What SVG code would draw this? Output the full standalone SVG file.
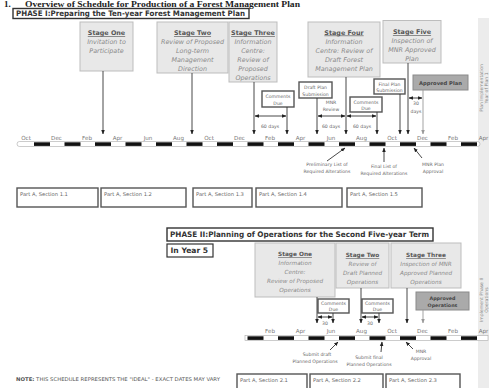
<svg xmlns="http://www.w3.org/2000/svg" width="489" height="388" viewBox="0 0 489 388">
<style>
text{font-family:"DejaVu Sans","Liberation Sans",sans-serif;}
.stg{fill:#e8e8e8;stroke:#bdbdbd;stroke-width:1;}
.appr{fill:#aaaaaa;stroke:#8a8a8a;stroke-width:1;}
.st{font-size:6.4px;font-weight:bold;fill:#555;text-decoration:underline;text-anchor:middle;}
.it{font-size:6.4px;font-style:italic;fill:#8a8a8a;text-anchor:middle;}
.st2{font-size:5.8px;font-weight:bold;fill:#555;text-decoration:underline;text-anchor:middle;}
.it2{font-size:5.7px;font-style:italic;fill:#8a8a8a;text-anchor:middle;}
.box2{fill:#fff;stroke:#555;stroke-width:1.4;}
.sm{font-size:4.6px;fill:#666;text-anchor:middle;}
.pa{font-size:5.2px;fill:#666;}
.mon{font-size:5.6px;fill:#777;text-anchor:middle;}
.ph{font-size:7.6px;font-weight:bold;fill:#333;}
.ln{stroke:#333;stroke-width:0.9;fill:none;}
.lg{stroke:#999;stroke-width:0.9;fill:none;}
.blk{fill:#111;}
.side{font-size:4.6px;fill:#888;text-anchor:middle;}
</style>
<defs>
<marker id="ah" viewBox="0 0 10 10" refX="9" refY="5" markerWidth="5" markerHeight="5" orient="auto"><path d="M0,1 L10,5 L0,9 z" fill="#222"/></marker>
<marker id="ahg" viewBox="0 0 10 10" refX="9" refY="5" markerWidth="5" markerHeight="5" orient="auto"><path d="M0,1 L10,5 L0,9 z" fill="#999"/></marker>
<marker id="as" viewBox="0 0 10 10" refX="1" refY="5" markerWidth="5" markerHeight="5" orient="auto"><path d="M10,1 L0,5 L10,9 z" fill="#222"/></marker>
</defs>

<g id="title">
<text x="4" y="6.5" style="font-family:'Liberation Serif',serif;font-size:9px;font-weight:bold;fill:#222">1.</text>
<text x="25" y="6.5" textLength="275" lengthAdjust="spacingAndGlyphs" style="font-family:'Liberation Serif',serif;font-size:9px;font-weight:bold;fill:#222">Overview of Schedule for Production of a Forest Management Plan</text>
</g>

<g id="sidebar">
<rect x="478" y="18" width="11" height="370" fill="#ececec"/>
<text class="side" transform="translate(482.5,88) rotate(-90)">Plan Implementation</text>
<text class="side" transform="translate(487.5,88) rotate(-90)">Year of Plan 1</text>
<text class="side" transform="translate(482.5,300) rotate(-90)">Implement Phase II</text>
<text class="side" transform="translate(487.5,300) rotate(-90)">Operations</text>
</g>

<g id="phase1">
<rect x="13" y="8.5" width="236" height="10" fill="#fff" stroke="#333" stroke-width="1.4"/>
<text class="ph" x="16" y="16.3" textLength="229" lengthAdjust="spacingAndGlyphs">PHASE I:Preparing the Ten-year Forest Management Plan</text>
</g>

<g id="p1-stage1">
<rect class="stg" x="80" y="22" width="53" height="49"/>
<text class="st" x="106.5" y="35">Stage One</text>
<text class="it" x="106.5" y="44">Invitation to</text>
<text class="it" x="106.5" y="53">Participate</text>
</g>
<g id="p1-stage2">
<rect class="stg" x="157" y="22" width="71" height="51"/>
<text class="st" x="192.5" y="35">Stage Two</text>
<text class="it" x="192.5" y="44">Review of Proposed</text>
<text class="it" x="192.5" y="53">Long-term</text>
<text class="it" x="192.5" y="62">Management</text>
<text class="it" x="192.5" y="71">Direction</text>
</g>
<g id="p1-stage3">
<rect class="stg" x="229" y="22" width="48" height="60"/>
<text class="st" x="253" y="35">Stage Three</text>
<text class="it" x="253" y="44">Information</text>
<text class="it" x="253" y="53">Centre:</text>
<text class="it" x="253" y="62">Review of</text>
<text class="it" x="253" y="71">Proposed</text>
<text class="it" x="253" y="80">Operations</text>
</g>
<g id="p1-stage4">
<rect class="stg" x="308" y="22" width="72" height="55"/>
<text class="st" x="344" y="34.5">Stage Four</text>
<text class="it" x="344" y="43.5">Information</text>
<text class="it" x="344" y="52.5">Centre: Review of</text>
<text class="it" x="344" y="61.5">Draft Forest</text>
<text class="it" x="344" y="70.5">Management Plan</text>
</g>
<g id="p1-stage5">
<rect class="stg" x="383" y="20.5" width="58" height="42.5"/>
<text class="st" x="412" y="34">Stage Five</text>
<text class="it" x="412" y="43">Inspection of</text>
<text class="it" x="412" y="52">MNR Approved</text>
<text class="it" x="412" y="61">Plan</text>
</g>
<g id="p1-approved">
<rect class="appr" x="413" y="75" width="55" height="15"/>
<text x="440.5" y="84.5" style="font-size:5.2px;fill:#444;text-anchor:middle;font-weight:bold">Approved Plan</text>
</g>
<g id="p1-comments1">
<rect class="box2" x="262" y="91" width="32" height="16"/>
<text class="sm" x="278" y="98">Comments</text>
<text class="sm" x="278" y="104.5">Due</text>
</g>
<g id="p1-draft">
<rect class="box2" x="299" y="82" width="33" height="16"/>
<text class="sm" x="315.5" y="89">Draft Plan</text>
<text class="sm" x="315.5" y="95.5">Submission</text>
</g>
<g id="p1-comments2">
<rect class="box2" x="350" y="97" width="32" height="15"/>
<text class="sm" x="366" y="103.5">Comments</text>
<text class="sm" x="366" y="110">Due</text>
</g>
<g id="p1-final">
<rect class="box2" x="374" y="79" width="31" height="15"/>
<text class="sm" x="389.5" y="85.5">Final Plan</text>
<text class="sm" x="389.5" y="92">Submission</text>
</g>

<g id="timeline1">
<rect x="17" y="141.5" width="463" height="5" rx="2.5" fill="#fff" stroke="#aaa" stroke-width="0.6"/>
<rect class="blk" x="34" y="142.3" width="16" height="3.6"/>
<rect class="blk" x="64.5" y="142.3" width="16" height="3.6"/>
<rect class="blk" x="95" y="142.3" width="16" height="3.6"/>
<rect class="blk" x="125.5" y="142.3" width="16" height="3.6"/>
<rect class="blk" x="156" y="142.3" width="16" height="3.6"/>
<rect class="blk" x="186.5" y="142.3" width="16" height="3.6"/>
<rect class="blk" x="217" y="142.3" width="16" height="3.6"/>
<rect class="blk" x="247.5" y="142.3" width="16" height="3.6"/>
<rect class="blk" x="278" y="142.3" width="16" height="3.6"/>
<rect class="blk" x="308.5" y="142.3" width="16" height="3.6"/>
<rect class="blk" x="339" y="142.3" width="16" height="3.6"/>
<rect class="blk" x="369.5" y="142.3" width="16" height="3.6"/>
<rect class="blk" x="400" y="142.3" width="16" height="3.6"/>
<rect class="blk" x="430.5" y="142.3" width="16" height="3.6"/>
<rect class="blk" x="461" y="142.3" width="16" height="3.6"/>
<text class="mon" x="26" y="140">Oct</text>
<text class="mon" x="56.5" y="140">Dec</text>
<text class="mon" x="87" y="140">Feb</text>
<text class="mon" x="117.5" y="140">Apr</text>
<text class="mon" x="148" y="140">Jun</text>
<text class="mon" x="178.5" y="140">Aug</text>
<text class="mon" x="209" y="140">Oct</text>
<text class="mon" x="239.5" y="140">Dec</text>
<text class="mon" x="270" y="140">Feb</text>
<text class="mon" x="300.5" y="140">Apr</text>
<text class="mon" x="331" y="140">Jun</text>
<text class="mon" x="361.5" y="140">Aug</text>
<text class="mon" x="392" y="140">Oct</text>
<text class="mon" x="422.5" y="140">Dec</text>
<text class="mon" x="453" y="140">Feb</text>
<text class="mon" x="483.5" y="140">Apr</text>
</g>

<g id="p1-notes">
<text class="sm" x="327" y="166">Preliminary List of</text>
<text class="sm" x="327" y="173">Required Alterations</text>
<text class="sm" x="384" y="168">Final List of</text>
<text class="sm" x="384" y="175">Required Alterations</text>
<text class="sm" x="433" y="166">MNR Plan</text>
<text class="sm" x="433" y="173">Approval</text>
<text class="sm" x="270" y="128">60 days</text>
<text class="sm" x="331" y="104">MNR</text>
<text class="sm" x="331" y="111">Review</text>
<text class="sm" x="331" y="128">60 days</text>
<text class="sm" x="362" y="128">60 days</text>
<rect x="409" y="100" width="14" height="15" fill="#fff"/>
<text class="sm" x="416" y="105">30</text>
<text class="sm" x="416" y="113">days</text>
</g>

<g id="p1-partA">
<rect class="box2" x="17" y="188" width="81" height="19"/>
<text class="pa" x="20" y="196">Part A, Section 1.1</text>
<rect class="box2" x="101" y="188" width="85" height="19"/>
<text class="pa" x="104" y="196">Part A, Section 1.2</text>
<rect class="box2" x="193" y="188" width="59" height="19"/>
<text class="pa" x="196" y="196">Part A, Section 1.3</text>
<rect class="box2" x="256" y="188" width="86" height="19"/>
<text class="pa" x="259" y="196">Part A, Section 1.4</text>
<rect class="box2" x="347" y="188" width="75" height="19"/>
<text class="pa" x="350" y="196">Part A, Section 1.5</text>
</g>

<g id="phase2">
<rect x="167" y="228" width="266" height="13" fill="#fff" stroke="#333" stroke-width="1.4"/>
<text class="ph" x="170" y="237.3" textLength="259" lengthAdjust="spacingAndGlyphs">PHASE II:Planning of Operations for the Second Five-year Term</text>
<rect x="167" y="244" width="46" height="13" fill="#fff" stroke="#333" stroke-width="1.2"/>
<text class="ph" x="170.5" y="253">In Year 5</text>
</g>

<g id="p2-stage1">
<rect class="stg" x="255" y="243" width="80" height="54"/>
<text class="st2" x="295" y="256">Stage One</text>
<text class="it2" x="295" y="265">Information</text>
<text class="it2" x="295" y="274">Centre:</text>
<text class="it2" x="295" y="283">Review of Proposed</text>
<text class="it2" x="295" y="292">Operations</text>
</g>
<g id="p2-stage2">
<rect class="stg" x="336" y="243" width="53" height="45"/>
<text class="st2" x="362.5" y="257">Stage Two</text>
<text class="it2" x="362.5" y="266">Review of</text>
<text class="it2" x="362.5" y="275">Draft Planned</text>
<text class="it2" x="362.5" y="284">Operations</text>
</g>
<g id="p2-stage3">
<rect class="stg" x="391" y="243" width="70" height="45"/>
<text class="st2" x="426" y="257">Stage Three</text>
<text class="it2" x="426" y="266">Inspection of MNR</text>
<text class="it2" x="426" y="275">Approved Planned</text>
<text class="it2" x="426" y="284">Operations</text>
</g>
<g id="p2-approved">
<rect class="appr" x="416" y="292" width="53" height="18"/>
<text x="442.5" y="299.5" style="font-size:4.8px;fill:#444;text-anchor:middle;font-weight:bold">Approved</text>
<text x="442.5" y="306.5" style="font-size:4.8px;fill:#444;text-anchor:middle;font-weight:bold">Operations</text>
</g>
<g id="p2-comments1">
<rect class="box2" x="318" y="299" width="31" height="14"/>
<text class="sm" x="333.5" y="305">Comments</text>
<text class="sm" x="333.5" y="311">Due</text>
</g>
<g id="p2-comments2">
<rect class="box2" x="362" y="299" width="31" height="14"/>
<text class="sm" x="377.5" y="305">Comments</text>
<text class="sm" x="377.5" y="311">Due</text>
</g>

<g id="timeline2">
<rect x="245" y="335.5" width="243" height="5" fill="#fff" stroke="#aaa" stroke-width="0.6"/>
<rect class="blk" x="247.5" y="336.3" width="16" height="3.6"/>
<rect class="blk" x="278" y="336.3" width="16" height="3.6"/>
<rect class="blk" x="308.5" y="336.3" width="16" height="3.6"/>
<rect class="blk" x="339" y="336.3" width="16" height="3.6"/>
<rect class="blk" x="369.5" y="336.3" width="16" height="3.6"/>
<rect class="blk" x="400" y="336.3" width="16" height="3.6"/>
<rect class="blk" x="430.5" y="336.3" width="16" height="3.6"/>
<rect class="blk" x="461" y="336.3" width="16" height="3.6"/>
<text class="mon" x="270" y="333">Feb</text>
<text class="mon" x="300.5" y="333">Apr</text>
<text class="mon" x="331" y="333">Jun</text>
<text class="mon" x="361.5" y="333">Aug</text>
<text class="mon" x="392" y="333">Oct</text>
<text class="mon" x="422.5" y="333">Dec</text>
<text class="mon" x="453" y="333">Feb</text>
<text class="mon" x="483.5" y="333">Apr</text>
</g>

<g id="p2-notes">
<text class="sm" x="325" y="324.5">30</text>
<text class="sm" x="370" y="324.5">30</text>
<text class="sm" x="317" y="356">Submit draft</text>
<text class="sm" x="315" y="363">Planned Operations</text>
<text class="sm" x="369" y="359">Submit final</text>
<text class="sm" x="369" y="366">Planned Operations</text>
<text class="sm" x="421" y="353">MNR</text>
<text class="sm" x="421" y="360">Approval</text>
</g>

<g id="p2-partA">
<rect class="box2" x="237" y="374" width="70" height="18"/>
<text class="pa" x="240" y="381.5">Part A, Section 2.1</text>
<rect class="box2" x="310" y="374" width="73" height="18"/>
<text class="pa" x="313" y="381.5">Part A, Section 2.2</text>
<rect class="box2" x="386" y="374" width="74" height="18"/>
<text class="pa" x="389" y="381.5">Part A, Section 2.3</text>
</g>

<g id="note">
<text x="16" y="381" textLength="204" lengthAdjust="spacingAndGlyphs" style="font-size:5px;fill:#555"><tspan font-weight="bold">NOTE:</tspan>  THIS SCHEDULE REPRESENTS THE "IDEAL" - EXACT DATES MAY VARY</text>
</g>

<g id="connectors">
<line class="ln" x1="103" y1="71" x2="103" y2="134" marker-end="url(#ah)"/>
<line class="ln" x1="192" y1="73" x2="192" y2="134" marker-end="url(#ah)"/>
<line class="ln" x1="254" y1="82" x2="254" y2="134" marker-end="url(#ah)"/>
<line class="ln" x1="287" y1="107" x2="287" y2="134" marker-end="url(#ah)"/>
<line class="ln" x1="255" y1="116" x2="286" y2="116" marker-start="url(#as)" marker-end="url(#ah)"/>
<line class="ln" x1="317" y1="98" x2="317" y2="134" marker-end="url(#ah)"/>
<line class="ln" x1="346" y1="77" x2="346" y2="134" marker-end="url(#ah)"/>
<line class="ln" x1="377" y1="112" x2="377" y2="134" marker-end="url(#ah)"/>
<line class="ln" x1="318" y1="116" x2="345" y2="116" marker-start="url(#as)" marker-end="url(#ah)"/>
<line class="ln" x1="347" y1="116" x2="376" y2="116" marker-start="url(#as)" marker-end="url(#ah)"/>
<line class="ln" x1="400" y1="94" x2="400" y2="134" marker-end="url(#ah)"/>
<line class="ln" x1="408" y1="63" x2="408" y2="134" marker-end="url(#ah)"/>
<line class="lg" x1="423" y1="90" x2="423" y2="134" marker-end="url(#ahg)"/>
<line class="ln" x1="409" y1="98" x2="422" y2="98" marker-start="url(#as)" marker-end="url(#ah)"/>
<line class="ln" x1="327" y1="161" x2="345" y2="148" marker-end="url(#ah)"/>
<line class="ln" x1="384" y1="162" x2="384" y2="148" marker-end="url(#ah)"/>
<line class="ln" x1="422" y1="158" x2="414" y2="148" marker-end="url(#ah)"/>
<line class="ln" x1="317" y1="297" x2="317" y2="323" marker-end="url(#ah)"/>
<line class="ln" x1="333" y1="313" x2="333" y2="323" marker-end="url(#ah)"/>
<line class="ln" x1="318" y1="317" x2="332" y2="317" marker-start="url(#as)" marker-end="url(#ah)"/>
<line class="ln" x1="361" y1="288" x2="361" y2="323" marker-end="url(#ah)"/>
<line class="ln" x1="379" y1="313" x2="379" y2="323" marker-end="url(#ah)"/>
<line class="ln" x1="362" y1="317" x2="378" y2="317" marker-start="url(#as)" marker-end="url(#ah)"/>
<line class="ln" x1="407" y1="288" x2="407" y2="323" marker-end="url(#ah)"/>
<line class="lg" x1="423" y1="310" x2="423" y2="323" marker-end="url(#ahg)"/>
<line class="ln" x1="330" y1="350" x2="338" y2="342" marker-end="url(#ah)"/>
<line class="ln" x1="381" y1="352" x2="382" y2="342" marker-end="url(#ah)"/>
<line class="ln" x1="413" y1="349" x2="406" y2="342" marker-end="url(#ah)"/>
</g>
</svg>
